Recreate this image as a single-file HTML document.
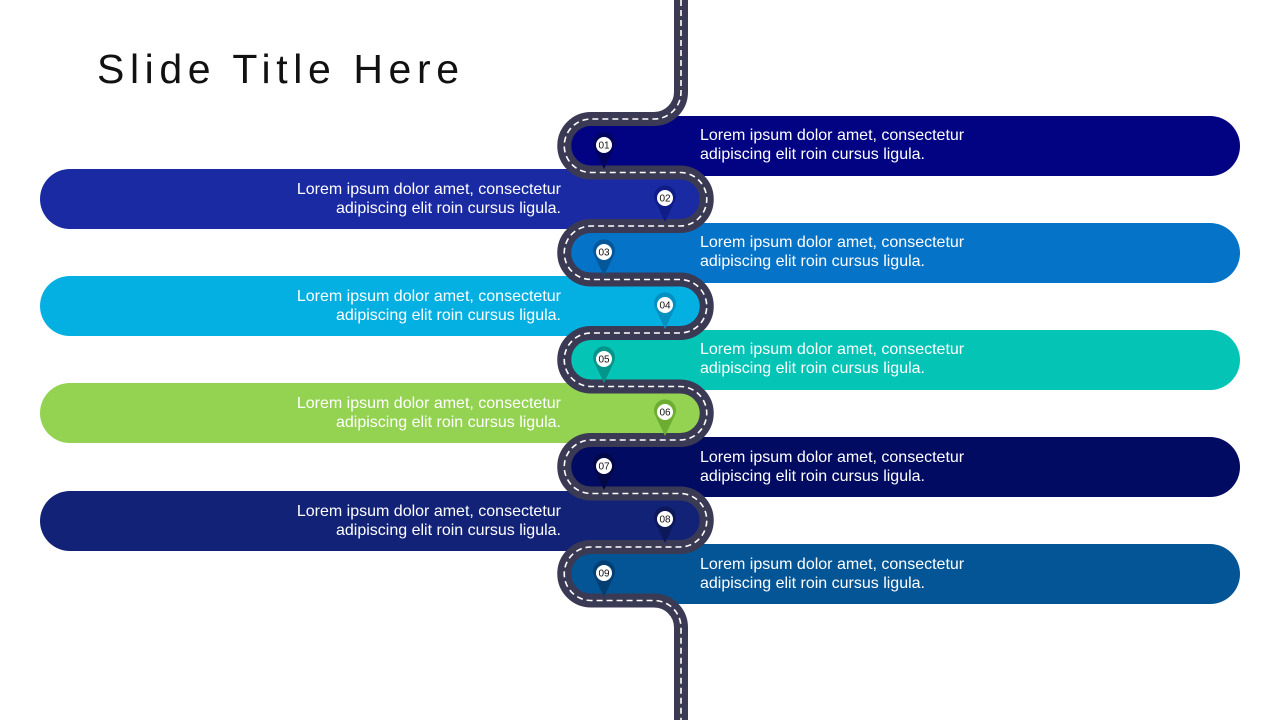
<!DOCTYPE html>
<html><head><style>
body{margin:0;width:1280px;height:720px;background:#fff;position:relative;overflow:hidden;font-family:"Liberation Sans",sans-serif}
.t{position:absolute;left:97px;top:46px;font-size:41px;letter-spacing:5.6px;color:#111}
.b{position:absolute;height:60px;border-radius:30px}
.tx{position:absolute;color:#fff;font-size:16px;line-height:19px}
</style></head><body>
<div class="t">Slide Title Here</div>
<div class="b" style="left:565px;width:675px;top:116px;background:#020382"></div>
<div class="b" style="left:40px;width:660px;top:169px;background:#1a2aa2"></div>
<div class="b" style="left:565px;width:675px;top:223px;background:#0574c8"></div>
<div class="b" style="left:40px;width:660px;top:276px;background:#04b0e2"></div>
<div class="b" style="left:565px;width:675px;top:330px;background:#03c4b5"></div>
<div class="b" style="left:40px;width:660px;top:383px;background:#94d352"></div>
<div class="b" style="left:565px;width:675px;top:437px;background:#020b62"></div>
<div class="b" style="left:40px;width:660px;top:491px;background:#122277"></div>
<div class="b" style="left:565px;width:675px;top:544px;background:#045595"></div>
<div class="tx" style="left:700px;top:126px">Lorem ipsum dolor amet, consectetur<br>adipiscing elit roin cursus ligula.</div>
<div class="tx" style="right:719px;top:180px;text-align:right">Lorem ipsum dolor amet, consectetur<br>adipiscing elit roin cursus ligula.</div>
<div class="tx" style="left:700px;top:233px">Lorem ipsum dolor amet, consectetur<br>adipiscing elit roin cursus ligula.</div>
<div class="tx" style="right:719px;top:287px;text-align:right">Lorem ipsum dolor amet, consectetur<br>adipiscing elit roin cursus ligula.</div>
<div class="tx" style="left:700px;top:340px">Lorem ipsum dolor amet, consectetur<br>adipiscing elit roin cursus ligula.</div>
<div class="tx" style="right:719px;top:394px;text-align:right">Lorem ipsum dolor amet, consectetur<br>adipiscing elit roin cursus ligula.</div>
<div class="tx" style="left:700px;top:448px">Lorem ipsum dolor amet, consectetur<br>adipiscing elit roin cursus ligula.</div>
<div class="tx" style="right:719px;top:502px;text-align:right">Lorem ipsum dolor amet, consectetur<br>adipiscing elit roin cursus ligula.</div>
<div class="tx" style="left:700px;top:555px">Lorem ipsum dolor amet, consectetur<br>adipiscing elit roin cursus ligula.</div>
<svg width="1280" height="720" style="position:absolute;left:0;top:0">
<g fill="none">
<path d="M681,0 V92 A27,27 0 0 1 654,119 H591 A26.75,26.75 0 0 0 591,172.5 H680 A26.75,26.75 0 0 1 680,226 H591 A26.75,26.75 0 0 0 591,279.5 H680 A26.75,26.75 0 0 1 680,333 H591 A26.75,26.75 0 0 0 591,386.5 H680 A26.75,26.75 0 0 1 680,440 H591 A26.75,26.75 0 0 0 591,493.5 H680 A26.75,26.75 0 0 1 680,547 H591 A26.75,26.75 0 0 0 591,600.5 H654 A27,27 0 0 1 681,627.5 V720" stroke="#3b3a55" stroke-width="14"/>
<path d="M681,0 V92 A27,27 0 0 1 654,119 H591 A26.75,26.75 0 0 0 591,172.5 H680 A26.75,26.75 0 0 1 680,226 H591 A26.75,26.75 0 0 0 591,279.5 H680 A26.75,26.75 0 0 1 680,333 H591 A26.75,26.75 0 0 0 591,386.5 H680 A26.75,26.75 0 0 1 680,440 H591 A26.75,26.75 0 0 0 591,493.5 H680 A26.75,26.75 0 0 1 680,547 H591 A26.75,26.75 0 0 0 591,600.5 H654 A27,27 0 0 1 681,627.5 V720" stroke="#fff" stroke-width="1.6" stroke-dasharray="6,4"/>
</g>
<g font-family="Liberation Sans" font-size="10" text-anchor="middle" fill="#111">
<g transform="translate(604,145)"><path d="M-10,3 A11,11 0 1 1 10,3 L0,24 Z" fill="#02035e"/><circle r="8" fill="#fff"/><text y="3.5">01</text></g>
<g transform="translate(665,198)"><path d="M-10,3 A11,11 0 1 1 10,3 L0,24 Z" fill="#101d88"/><circle r="8" fill="#fff"/><text y="3.5">02</text></g>
<g transform="translate(604,252)"><path d="M-10,3 A11,11 0 1 1 10,3 L0,24 Z" fill="#04589a"/><circle r="8" fill="#fff"/><text y="3.5">03</text></g>
<g transform="translate(665,305)"><path d="M-10,3 A11,11 0 1 1 10,3 L0,24 Z" fill="#0490c0"/><circle r="8" fill="#fff"/><text y="3.5">04</text></g>
<g transform="translate(604,359)"><path d="M-10,3 A11,11 0 1 1 10,3 L0,24 Z" fill="#03958a"/><circle r="8" fill="#fff"/><text y="3.5">05</text></g>
<g transform="translate(665,412)"><path d="M-10,3 A11,11 0 1 1 10,3 L0,24 Z" fill="#6cad32"/><circle r="8" fill="#fff"/><text y="3.5">06</text></g>
<g transform="translate(604,466)"><path d="M-10,3 A11,11 0 1 1 10,3 L0,24 Z" fill="#010845"/><circle r="8" fill="#fff"/><text y="3.5">07</text></g>
<g transform="translate(665,519)"><path d="M-10,3 A11,11 0 1 1 10,3 L0,24 Z" fill="#0c185a"/><circle r="8" fill="#fff"/><text y="3.5">08</text></g>
<g transform="translate(604,573)"><path d="M-10,3 A11,11 0 1 1 10,3 L0,24 Z" fill="#033f72"/><circle r="8" fill="#fff"/><text y="3.5">09</text></g>
</g>
</svg>
</body></html>
